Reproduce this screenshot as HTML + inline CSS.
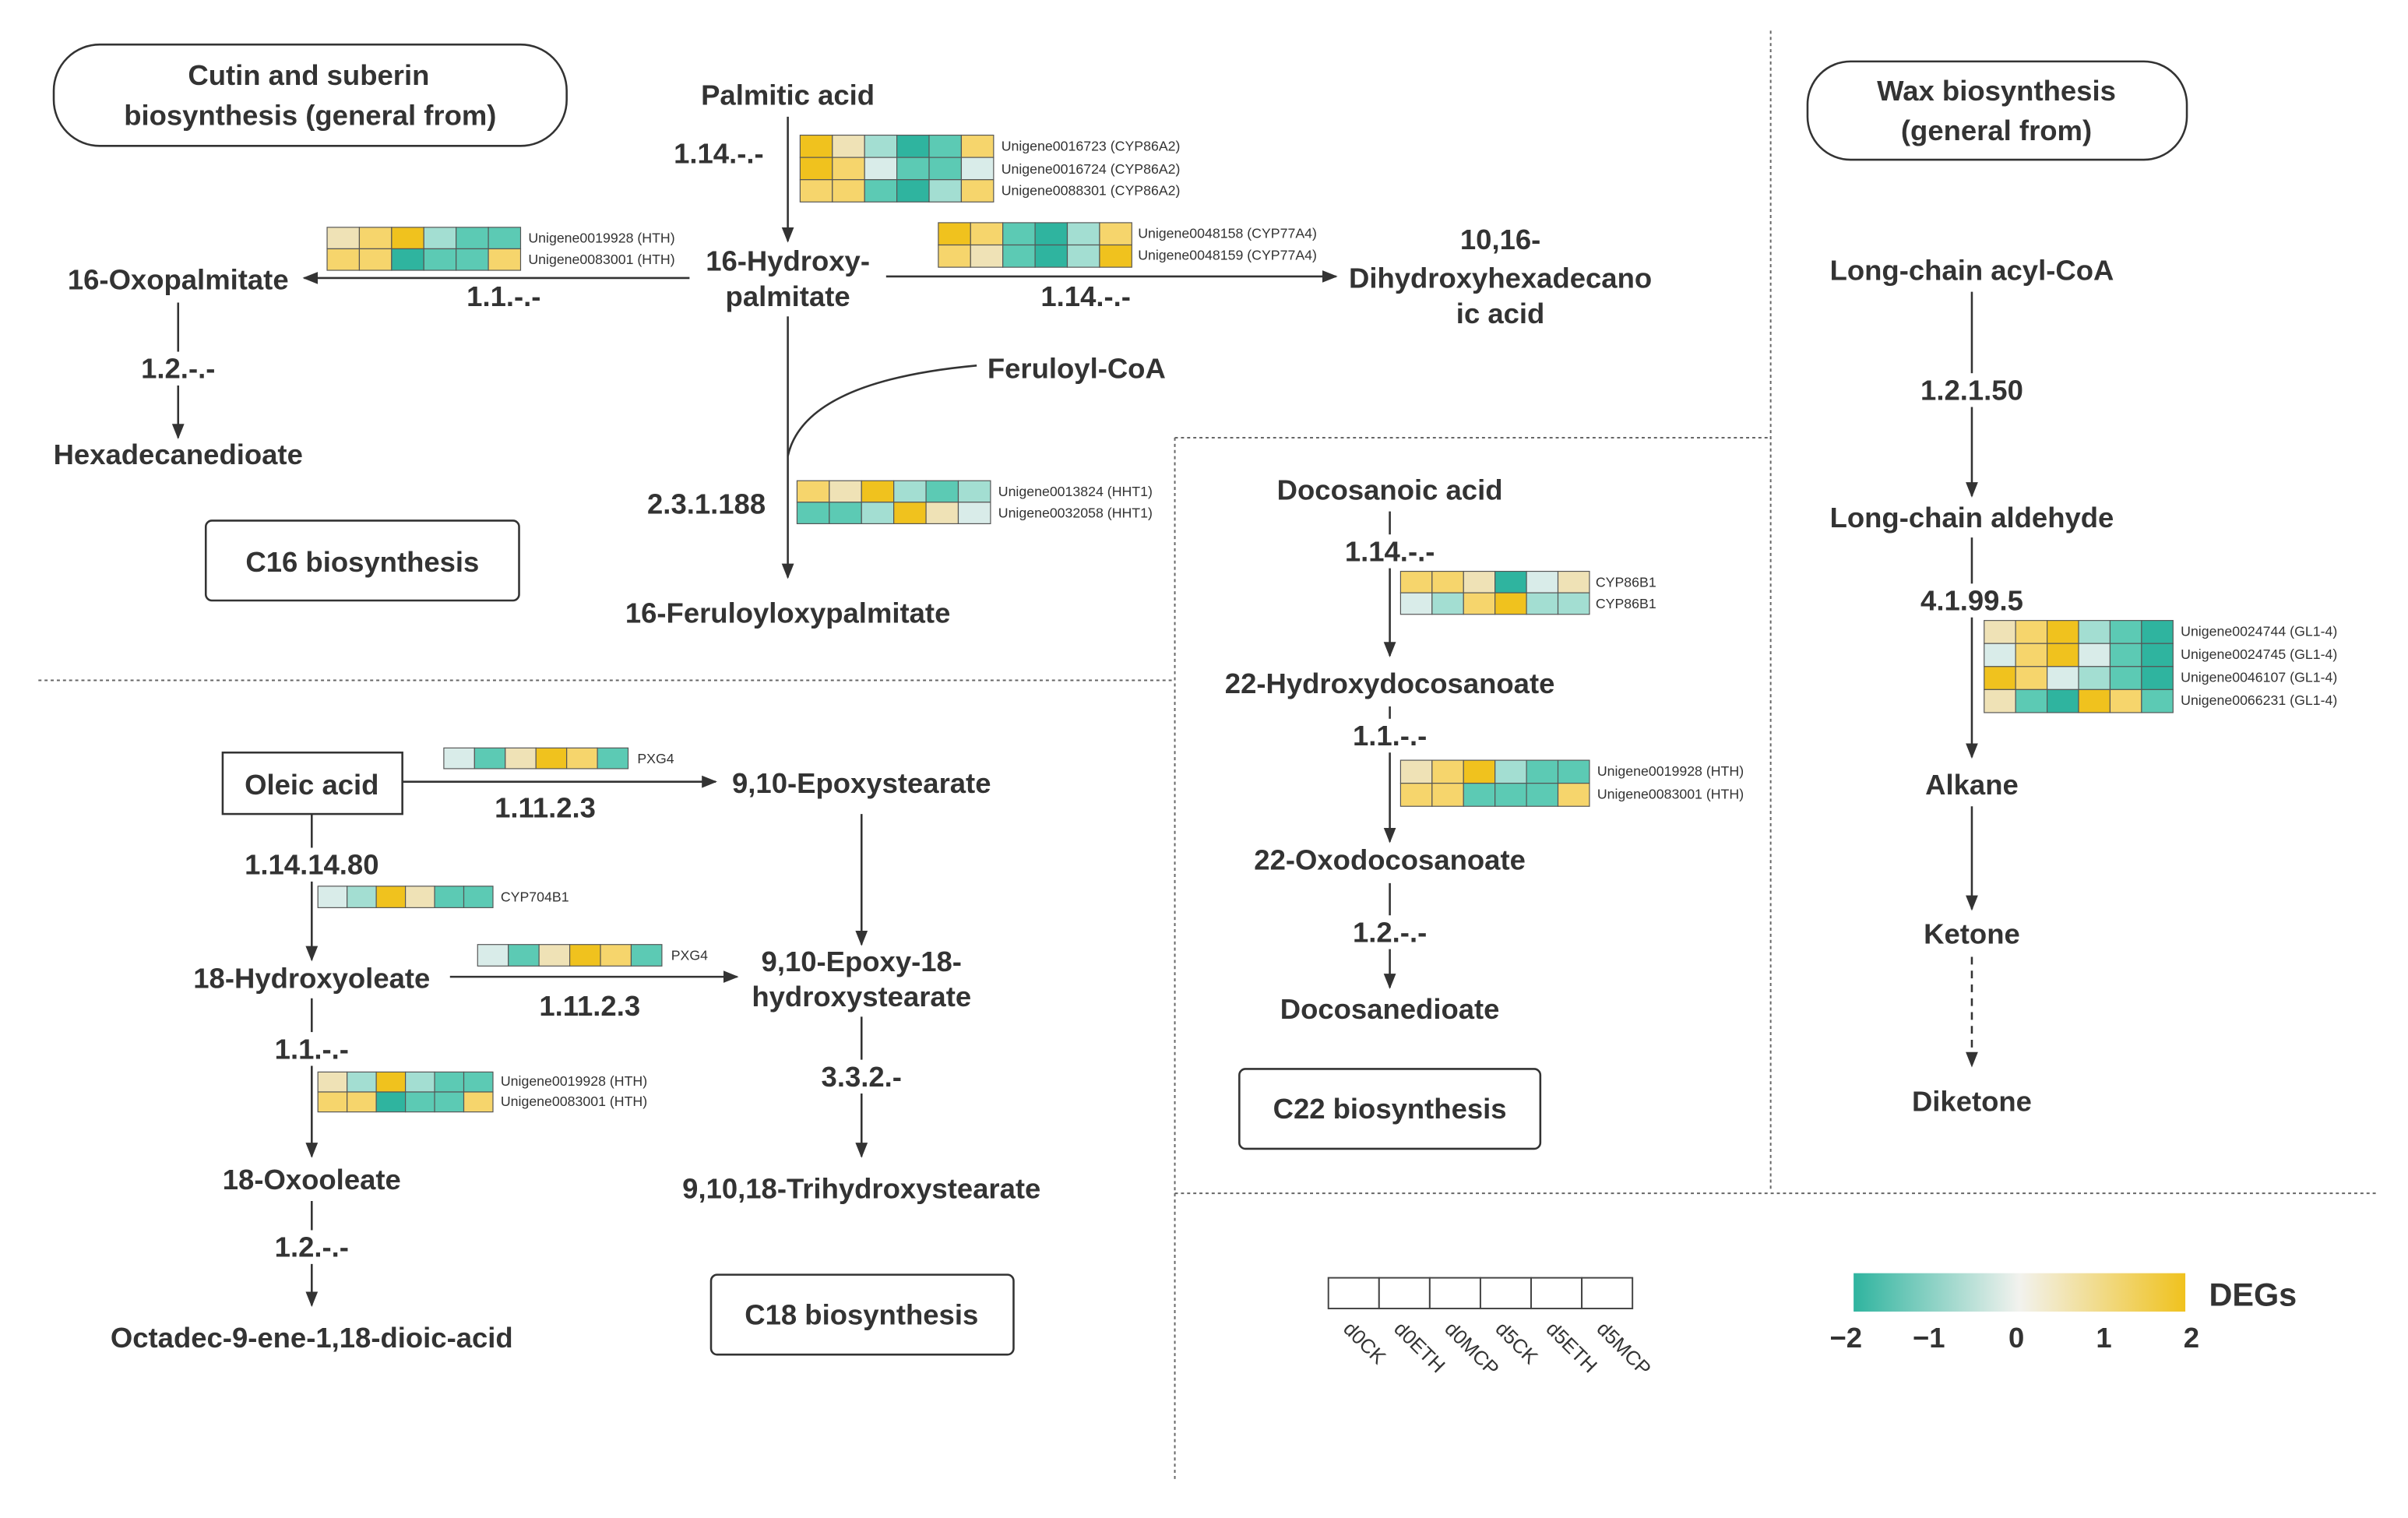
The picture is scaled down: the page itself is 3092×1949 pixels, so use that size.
<!DOCTYPE html>
<html><head><meta charset="utf-8"><style>
html,body{margin:0;padding:0;background:#fff;}
svg{display:block}
.n{font-family:"Liberation Sans","Noto Sans CJK SC",sans-serif;font-weight:bold;font-size:18.5px;fill:#333;text-anchor:middle;dominant-baseline:central}
.g{font-family:"Liberation Sans",sans-serif;font-size:9px;fill:#333;dominant-baseline:central}
.Y{fill:#f0c21e}.y{fill:#f6d56c}.e{fill:#efe2b6}.w{fill:#d9ece9}.c{fill:#a3ded2}.t{fill:#5ccab4}.T{fill:#2fb49f}
rect.h{stroke:#555;stroke-width:0.6}
</style></head><body>
<svg width="3092" height="1949" viewBox="0 0 1568 988.4" preserveAspectRatio="none" xmlns="http://www.w3.org/2000/svg">
<defs>
<marker id="a" markerWidth="10" markerHeight="10" refX="9" refY="5" orient="auto" markerUnits="userSpaceOnUse"><path d="M0,1 L10,5 L0,9 z" fill="#333"/></marker>
<linearGradient id="lg" x1="0" x2="1"><stop offset="0" stop-color="#2fb49f"/><stop offset="0.5" stop-color="#f2f2ee"/><stop offset="1" stop-color="#f0c21e"/></linearGradient>
</defs>
<rect width="1600" height="1000" fill="#fff"/>
<g stroke="#666" stroke-width="1" stroke-dasharray="2,2" fill="none">
<line x1="25" y1="443" x2="765" y2="443"/><line x1="765" y1="285" x2="765" y2="965"/>
<line x1="765" y1="285" x2="1152" y2="285"/><line x1="1153" y1="20" x2="1153" y2="775"/>
<line x1="765" y1="777" x2="1548" y2="777"/></g>

<g fill="none" stroke="#333" stroke-width="1.3">
<rect x="35" y="29" width="334" height="66" rx="30"/><rect x="1177" y="40" width="247" height="64" rx="28"/>
<rect x="134" y="339" width="204" height="52" rx="4"/><rect x="463" y="830" width="197" height="52" rx="4"/>
<rect x="807" y="696" width="196" height="52" rx="4"/><rect x="145" y="490" width="117" height="40"/>
</g>
<g stroke="#333" stroke-width="1.3" fill="none" marker-end="url(#a)">
<line x1="513" y1="76" x2="513" y2="157"/><line x1="449" y1="181" x2="198" y2="181"/>
<line x1="116" y1="197" x2="116" y2="285"/><line x1="577" y1="180" x2="870" y2="180"/>
<line x1="513" y1="206" x2="513" y2="376"/>
<line x1="262" y1="509" x2="466" y2="509"/><line x1="203" y1="530" x2="203" y2="625"/>
<line x1="293" y1="636" x2="480" y2="636"/><line x1="561" y1="530" x2="561" y2="615"/>
<line x1="561" y1="662" x2="561" y2="753"/><line x1="203" y1="650" x2="203" y2="753"/>
<line x1="203" y1="782" x2="203" y2="850"/>
<line x1="905" y1="333" x2="905" y2="427"/><line x1="905" y1="460" x2="905" y2="548"/><line x1="905" y1="575" x2="905" y2="643"/>
<line x1="1284" y1="190" x2="1284" y2="323"/><line x1="1284" y1="350" x2="1284" y2="493"/><line x1="1284" y1="525" x2="1284" y2="592"/>
<line x1="1284" y1="623" x2="1284" y2="694" stroke-dasharray="5,4"/>
</g>
<path d="M636,238 C560,245 520,265 513,297" fill="none" stroke="#333" stroke-width="1.3"/>

<g class="n">
<text x="201" y="49">Cutin and suberin</text><text x="202" y="75">biosynthesis (general from)</text>
<text x="1300" y="59">Wax biosynthesis</text><text x="1300" y="85">(general from)</text>
<text x="513" y="62">Palmitic acid</text>
<rect x="430" y="89" width="76" height="22" fill="#fff" stroke="none"/><text x="468" y="100">1.14.-.-</text>
<text x="513" y="170">16-Hydroxy-</text><text x="513" y="193">palmitate</text>
<text x="116" y="182">16-Oxopalmitate</text><text x="328" y="193">1.1.-.-</text>
<rect x="86" y="229" width="60" height="22" fill="#fff" stroke="none"/><text x="116" y="240">1.2.-.-</text>
<text x="116" y="296">Hexadecanedioate</text><text x="707" y="193">1.14.-.-</text>
<text x="977" y="156">10,16-</text><text x="977" y="181">Dihydroxyhexadecano</text><text x="977" y="204">ic acid</text>
<text x="701" y="240">Feruloyl-CoA</text><text x="460" y="328">2.3.1.188</text>
<text x="513" y="399">16-Feruloyloxypalmitate</text><text x="236" y="366">C16 biosynthesis</text>
<text x="203" y="511">Oleic acid</text><text x="355" y="526">1.11.2.3</text><text x="561" y="510">9,10-Epoxystearate</text>
<rect x="150" y="552" width="106" height="22" fill="#fff" stroke="none"/><text x="203" y="563">1.14.14.80</text>
<text x="203" y="637">18-Hydroxyoleate</text><text x="384" y="655">1.11.2.3</text>
<text x="561" y="626">9,10-Epoxy-18-</text><text x="561" y="649">hydroxystearate</text>
<rect x="531" y="690" width="60" height="22" fill="#fff" stroke="none"/><text x="561" y="701">3.3.2.-</text>
<text x="561" y="774">9,10,18-Trihydroxystearate</text>
<rect x="173" y="672" width="60" height="22" fill="#fff" stroke="none"/><text x="203" y="683">1.1.-.-</text>
<text x="203" y="768">18-Oxooleate</text>
<rect x="173" y="801" width="60" height="22" fill="#fff" stroke="none"/><text x="203" y="812">1.2.-.-</text>
<text x="203" y="871">Octadec-9-ene-1,18-dioic-acid</text><text x="561" y="856">C18 biosynthesis</text>
<text x="905" y="319">Docosanoic acid</text>
<rect x="868" y="348" width="74" height="22" fill="#fff" stroke="none"/><text x="905" y="359">1.14.-.-</text>
<text x="905" y="445">22-Hydroxydocosanoate</text>
<rect x="875" y="468" width="60" height="22" fill="#fff" stroke="none"/><text x="905" y="479">1.1.-.-</text>
<text x="905" y="560">22-Oxodocosanoate</text>
<rect x="875" y="596" width="60" height="22" fill="#fff" stroke="none"/><text x="905" y="607">1.2.-.-</text>
<text x="905" y="657">Docosanedioate</text><text x="905" y="722">C22 biosynthesis</text>
<text x="1284" y="176">Long-chain acyl-CoA</text>
<rect x="1240" y="243" width="88" height="22" fill="#fff" stroke="none"/><text x="1284" y="254">1.2.1.50</text>
<text x="1284" y="337">Long-chain aldehyde</text>
<rect x="1240" y="380" width="88" height="22" fill="#fff" stroke="none"/><text x="1284" y="391">4.1.99.5</text>
<text x="1284" y="511">Alkane</text><text x="1284" y="608">Ketone</text><text x="1284" y="717">Diketone</text>
<text x="1467" y="843" style="font-size:21px">DEGs</text>
<text x="1202" y="871">−2</text><text x="1256" y="871">−1</text><text x="1313" y="871">0</text><text x="1370" y="871">1</text><text x="1427" y="871">2</text>
</g>

<g>
<rect class="h Y" x="521" y="88" width="21" height="14.5"/><rect class="h e" x="542" y="88" width="21" height="14.5"/><rect class="h c" x="563" y="88" width="21" height="14.5"/><rect class="h T" x="584" y="88" width="21" height="14.5"/><rect class="h t" x="605" y="88" width="21" height="14.5"/><rect class="h y" x="626" y="88" width="21" height="14.5"/>
<rect class="h Y" x="521" y="102.5" width="21" height="14.5"/><rect class="h y" x="542" y="102.5" width="21" height="14.5"/><rect class="h w" x="563" y="102.5" width="21" height="14.5"/><rect class="h t" x="584" y="102.5" width="21" height="14.5"/><rect class="h t" x="605" y="102.5" width="21" height="14.5"/><rect class="h w" x="626" y="102.5" width="21" height="14.5"/>
<rect class="h y" x="521" y="117" width="21" height="14.5"/><rect class="h y" x="542" y="117" width="21" height="14.5"/><rect class="h t" x="563" y="117" width="21" height="14.5"/><rect class="h T" x="584" y="117" width="21" height="14.5"/><rect class="h c" x="605" y="117" width="21" height="14.5"/><rect class="h y" x="626" y="117" width="21" height="14.5"/>
<text class="g" x="652" y="95">Unigene0016723 (CYP86A2)</text><text class="g" x="652" y="110">Unigene0016724 (CYP86A2)</text><text class="g" x="652" y="124">Unigene0088301 (CYP86A2)</text>
<rect class="h e" x="213" y="148" width="21" height="14"/><rect class="h y" x="234" y="148" width="21" height="14"/><rect class="h Y" x="255" y="148" width="21" height="14"/><rect class="h c" x="276" y="148" width="21" height="14"/><rect class="h t" x="297" y="148" width="21" height="14"/><rect class="h t" x="318" y="148" width="21" height="14"/>
<rect class="h y" x="213" y="162" width="21" height="14"/><rect class="h y" x="234" y="162" width="21" height="14"/><rect class="h T" x="255" y="162" width="21" height="14"/><rect class="h t" x="276" y="162" width="21" height="14"/><rect class="h t" x="297" y="162" width="21" height="14"/><rect class="h y" x="318" y="162" width="21" height="14"/>
<text class="g" x="344" y="155">Unigene0019928 (HTH)</text><text class="g" x="344" y="169">Unigene0083001 (HTH)</text>
<rect class="h Y" x="611" y="145" width="21" height="14.5"/><rect class="h y" x="632" y="145" width="21" height="14.5"/><rect class="h t" x="653" y="145" width="21" height="14.5"/><rect class="h T" x="674" y="145" width="21" height="14.5"/><rect class="h c" x="695" y="145" width="21" height="14.5"/><rect class="h y" x="716" y="145" width="21" height="14.5"/>
<rect class="h y" x="611" y="159.5" width="21" height="14.5"/><rect class="h e" x="632" y="159.5" width="21" height="14.5"/><rect class="h t" x="653" y="159.5" width="21" height="14.5"/><rect class="h T" x="674" y="159.5" width="21" height="14.5"/><rect class="h c" x="695" y="159.5" width="21" height="14.5"/><rect class="h Y" x="716" y="159.5" width="21" height="14.5"/>
<text class="g" x="741" y="152">Unigene0048158 (CYP77A4)</text><text class="g" x="741" y="166">Unigene0048159 (CYP77A4)</text>
<rect class="h y" x="519" y="313" width="21" height="14"/><rect class="h e" x="540" y="313" width="21" height="14"/><rect class="h Y" x="561" y="313" width="21" height="14"/><rect class="h c" x="582" y="313" width="21" height="14"/><rect class="h t" x="603" y="313" width="21" height="14"/><rect class="h c" x="624" y="313" width="21" height="14"/>
<rect class="h t" x="519" y="327" width="21" height="14"/><rect class="h t" x="540" y="327" width="21" height="14"/><rect class="h c" x="561" y="327" width="21" height="14"/><rect class="h Y" x="582" y="327" width="21" height="14"/><rect class="h e" x="603" y="327" width="21" height="14"/><rect class="h w" x="624" y="327" width="21" height="14"/>
<text class="g" x="650" y="320">Unigene0013824 (HHT1)</text><text class="g" x="650" y="334">Unigene0032058 (HHT1)</text>
<rect class="h w" x="289" y="487" width="20" height="13.5"/><rect class="h t" x="309" y="487" width="20" height="13.5"/><rect class="h e" x="329" y="487" width="20" height="13.5"/><rect class="h Y" x="349" y="487" width="20" height="13.5"/><rect class="h y" x="369" y="487" width="20" height="13.5"/><rect class="h t" x="389" y="487" width="20" height="13.5"/>
<text class="g" x="415" y="494">PXG4</text>
<rect class="h w" x="207" y="577" width="19" height="14"/><rect class="h c" x="226" y="577" width="19" height="14"/><rect class="h Y" x="245" y="577" width="19" height="14"/><rect class="h e" x="264" y="577" width="19" height="14"/><rect class="h t" x="283" y="577" width="19" height="14"/><rect class="h t" x="302" y="577" width="19" height="14"/>
<text class="g" x="326" y="584">CYP704B1</text>
<rect class="h w" x="311" y="615" width="20" height="14"/><rect class="h t" x="331" y="615" width="20" height="14"/><rect class="h e" x="351" y="615" width="20" height="14"/><rect class="h Y" x="371" y="615" width="20" height="14"/><rect class="h y" x="391" y="615" width="20" height="14"/><rect class="h t" x="411" y="615" width="20" height="14"/>
<text class="g" x="437" y="622">PXG4</text>
<rect class="h e" x="207" y="698" width="19" height="13"/><rect class="h c" x="226" y="698" width="19" height="13"/><rect class="h Y" x="245" y="698" width="19" height="13"/><rect class="h c" x="264" y="698" width="19" height="13"/><rect class="h t" x="283" y="698" width="19" height="13"/><rect class="h t" x="302" y="698" width="19" height="13"/>
<rect class="h y" x="207" y="711" width="19" height="13"/><rect class="h y" x="226" y="711" width="19" height="13"/><rect class="h T" x="245" y="711" width="19" height="13"/><rect class="h t" x="264" y="711" width="19" height="13"/><rect class="h t" x="283" y="711" width="19" height="13"/><rect class="h y" x="302" y="711" width="19" height="13"/>
<text class="g" x="326" y="704">Unigene0019928 (HTH)</text><text class="g" x="326" y="717">Unigene0083001 (HTH)</text>
<rect class="h y" x="912" y="372" width="20.5" height="14"/><rect class="h y" x="932.5" y="372" width="20.5" height="14"/><rect class="h e" x="953" y="372" width="20.5" height="14"/><rect class="h T" x="973.5" y="372" width="20.5" height="14"/><rect class="h w" x="994" y="372" width="20.5" height="14"/><rect class="h e" x="1014.5" y="372" width="20.5" height="14"/>
<rect class="h w" x="912" y="386" width="20.5" height="14"/><rect class="h c" x="932.5" y="386" width="20.5" height="14"/><rect class="h y" x="953" y="386" width="20.5" height="14"/><rect class="h Y" x="973.5" y="386" width="20.5" height="14"/><rect class="h c" x="994" y="386" width="20.5" height="14"/><rect class="h c" x="1014.5" y="386" width="20.5" height="14"/>
<text class="g" x="1039" y="379">CYP86B1</text><text class="g" x="1039" y="393">CYP86B1</text>
<rect class="h e" x="912" y="495" width="20.5" height="15"/><rect class="h y" x="932.5" y="495" width="20.5" height="15"/><rect class="h Y" x="953" y="495" width="20.5" height="15"/><rect class="h c" x="973.5" y="495" width="20.5" height="15"/><rect class="h t" x="994" y="495" width="20.5" height="15"/><rect class="h t" x="1014.5" y="495" width="20.5" height="15"/>
<rect class="h y" x="912" y="510" width="20.5" height="15"/><rect class="h y" x="932.5" y="510" width="20.5" height="15"/><rect class="h t" x="953" y="510" width="20.5" height="15"/><rect class="h t" x="973.5" y="510" width="20.5" height="15"/><rect class="h t" x="994" y="510" width="20.5" height="15"/><rect class="h y" x="1014.5" y="510" width="20.5" height="15"/>
<text class="g" x="1040" y="502">Unigene0019928 (HTH)</text><text class="g" x="1040" y="517">Unigene0083001 (HTH)</text>
<rect class="h e" x="1292" y="404" width="20.5" height="15"/><rect class="h y" x="1312.5" y="404" width="20.5" height="15"/><rect class="h Y" x="1333" y="404" width="20.5" height="15"/><rect class="h c" x="1353.5" y="404" width="20.5" height="15"/><rect class="h t" x="1374" y="404" width="20.5" height="15"/><rect class="h T" x="1394.5" y="404" width="20.5" height="15"/>
<rect class="h w" x="1292" y="419" width="20.5" height="15"/><rect class="h y" x="1312.5" y="419" width="20.5" height="15"/><rect class="h Y" x="1333" y="419" width="20.5" height="15"/><rect class="h w" x="1353.5" y="419" width="20.5" height="15"/><rect class="h t" x="1374" y="419" width="20.5" height="15"/><rect class="h T" x="1394.5" y="419" width="20.5" height="15"/>
<rect class="h Y" x="1292" y="434" width="20.5" height="15"/><rect class="h y" x="1312.5" y="434" width="20.5" height="15"/><rect class="h w" x="1333" y="434" width="20.5" height="15"/><rect class="h c" x="1353.5" y="434" width="20.5" height="15"/><rect class="h t" x="1374" y="434" width="20.5" height="15"/><rect class="h T" x="1394.5" y="434" width="20.5" height="15"/>
<rect class="h e" x="1292" y="449" width="20.5" height="15"/><rect class="h t" x="1312.5" y="449" width="20.5" height="15"/><rect class="h T" x="1333" y="449" width="20.5" height="15"/><rect class="h Y" x="1353.5" y="449" width="20.5" height="15"/><rect class="h y" x="1374" y="449" width="20.5" height="15"/><rect class="h t" x="1394.5" y="449" width="20.5" height="15"/>
<text class="g" x="1420" y="411">Unigene0024744 (GL1-4)</text><text class="g" x="1420" y="426">Unigene0024745 (GL1-4)</text><text class="g" x="1420" y="441">Unigene0046107 (GL1-4)</text><text class="g" x="1420" y="456">Unigene0066231 (GL1-4)</text>
</g>

<g fill="#fff" stroke="#444" stroke-width="1">
<rect x="865" y="832" width="33" height="20"/><rect x="898" y="832" width="33" height="20"/><rect x="931" y="832" width="33" height="20"/><rect x="964" y="832" width="33" height="20"/><rect x="997" y="832" width="33" height="20"/><rect x="1030" y="832" width="33" height="20"/>
</g>
<g font-family="Liberation Sans, sans-serif" font-size="13" fill="#333">
<text transform="translate(874,866) rotate(45)">d0CK</text>
<text transform="translate(907,866) rotate(45)">d0ETH</text>
<text transform="translate(940,866) rotate(45)">d0MCP</text>
<text transform="translate(973,866) rotate(45)">d5CK</text>
<text transform="translate(1006,866) rotate(45)">d5ETH</text>
<text transform="translate(1039,866) rotate(45)">d5MCP</text>
</g>
<rect x="1207" y="829" width="216" height="25" fill="url(#lg)"/>
</svg>
</body></html>
